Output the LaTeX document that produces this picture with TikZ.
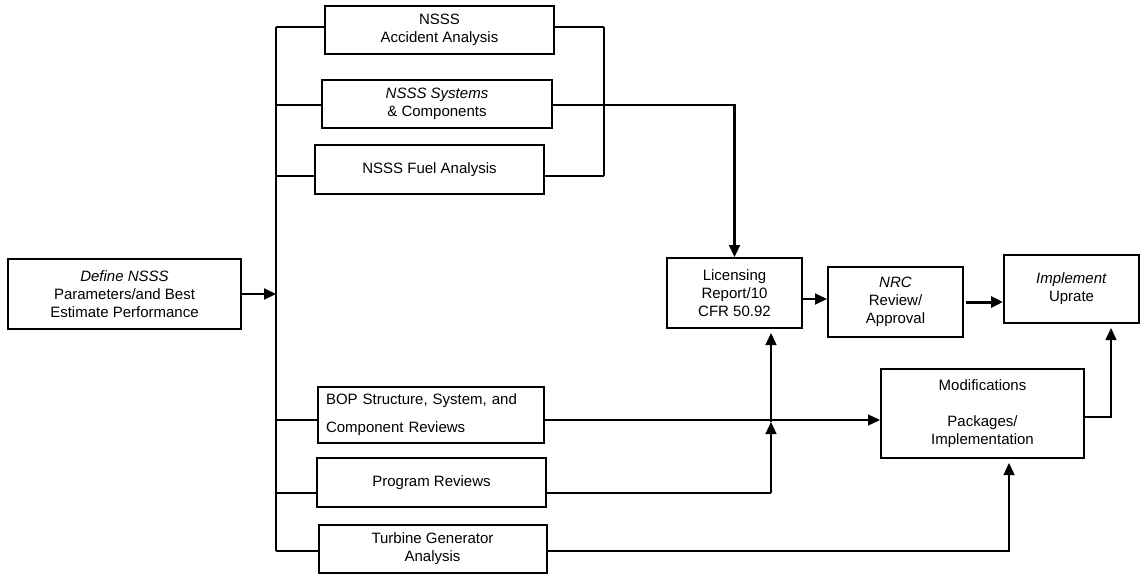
\documentclass[tikz,border=0pt]{standalone}
\usepackage{fontspec}
\setmainfont{Liberation Sans}
\usetikzlibrary{arrows.meta}
\begin{document}
\begin{tikzpicture}[x=1pt,y=-1pt,
  box/.style={draw, line width=2pt, inner sep=0pt, align=center, font=\fontsize{15}{18}\selectfont},
  wire/.style={line width=1.3pt},
  bus/.style={line width=2pt},
  arr/.style={wire, -{Triangle[length=12pt,width=11pt]}}]
\useasboundingbox (0,0) rectangle (1142,574);
% boxes
\node[box, minimum width=233pt, minimum height=70pt] (def) at (124.5,294) {\textit{Define NSSS}\\Parameters/and Best\\Estimate Performance};
\node[box, minimum width=229pt, minimum height=48pt] (acc) at (439.5,30) {NSSS\\Accident Analysis};
\node[box, minimum width=230pt, minimum height=48pt] (sys) at (437,104) {\textit{NSSS Systems}\\\& Components};
\node[box, minimum width=229pt, minimum height=49pt] (fuel) at (429.5,169.5) {NSSS Fuel Analysis};
\node[box, minimum width=226pt, minimum height=56pt, text width=210pt, align=left] (bop) at (431,415) {BOP Structure, System, and\\[10pt]Component Reviews};
\node[box, minimum width=229pt, minimum height=49pt] (prog) at (431.5,482.5) {Program Reviews};
\node[box, minimum width=228pt, minimum height=48pt] (turb) at (432.5,549) {Turbine Generator\\Analysis};
\node[box, minimum width=135pt, minimum height=70pt] (lic) at (734.5,293) {Licensing\\Report/10\\CFR 50.92};
\node[box, minimum width=135pt, minimum height=70pt] (nrc) at (895.5,302) {\textit{NRC}\\Review/\\Approval};
\node[box, minimum width=135pt, minimum height=68pt] (impl) at (1071.5,289) {\textit{Implement}\\Uprate};
\node[box, minimum width=203pt, minimum height=89pt] (mod) at (982.5,413.5) {Modifications\\[18pt]Packages/\\Implementation};
% left bus
\coordinate (b1) at (276,27);
\coordinate (b2) at (276,105);
\coordinate (b3) at (276,176);
\coordinate (b4) at (276,420);
\coordinate (b5) at (276,493);
\coordinate (b6) at (276,551);
\draw[bus] (b1) -- (b6);
\draw[wire] (b1) -- (b1 -| acc.west);
\draw[wire] (b2) -- (b2 -| sys.west);
\draw[wire] (b3) -- (b3 -| fuel.west);
\draw[wire] (b4) -- (b4 -| bop.west);
\draw[wire] (b5) -- (b5 -| prog.west);
\draw[wire] (b6) -- (b6 -| turb.west);
\draw[arr, bus] (def.east) -- (def.east -| b1);
% right NSSS bus
\coordinate (r1) at (604,27);
\coordinate (r3) at (604,176);
\draw[wire] (r1) -- (r3);
\draw[wire] (acc.east |- r1) -- (r1);
\draw[wire] (fuel.east |- r3) -- (r3);
\draw[arr, line width=2.2pt] (sys.east |- b2) -| (lic.north);
% main chain
\coordinate (yLN) at (0,299);
\coordinate (yNI) at (0,302);
\draw[arr, line width=1.8pt] (lic.east |- yLN) -- (nrc.west |- yLN);
\draw[arr, line width=3pt] ([xshift=2pt]nrc.east |- yNI) -- (impl.west |- yNI);
% BOP to modifications
\draw[arr] (bop.east |- b4) -- (mod.west |- b4);
% program reviews to licensing
\coordinate (pv) at (771,493);
\coordinate (pm) at (771,422);
\draw[wire] (prog.east |- pv) -- (pv);
\draw[arr] (pv) -- (pm);
\draw[arr, shorten >=4pt] (pm) -- (lic.south -| pm);
% turbine to modifications
\coordinate (tv) at (1009,551);
\draw[arr, shorten >=4pt] (turb.east |- tv) -| (mod.south -| tv);
% modifications to implement
\coordinate (mv) at (1111,417);
\draw[arr, shorten >=4pt] (mod.east |- mv) -| (impl.south -| mv);
\end{tikzpicture}
\end{document}
